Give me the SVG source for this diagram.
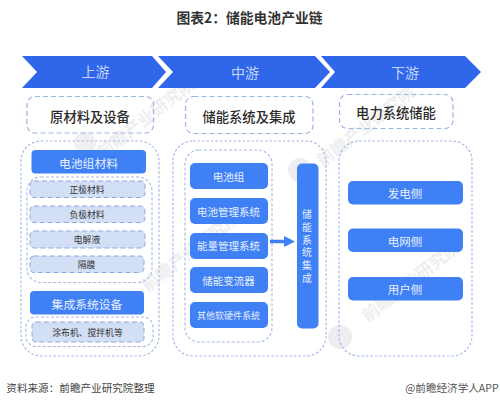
<svg xmlns="http://www.w3.org/2000/svg" width="500" height="404" viewBox="0 0 500 404">
<style>
text{font-family:"Noto Sans CJK SC","Liberation Sans",sans-serif;text-anchor:middle;dominant-baseline:central}
.chev{fill:#2f66ea}
.ct{fill:#c4d4f7;font-size:14px}
.lab{fill:none;stroke:#9db4e6;stroke-width:1.2;stroke-dasharray:5 3}
.lt{fill:#2b2b2b;font-size:13.300px;font-weight:500}
.big{fill:none;stroke:#a3b8e8;stroke-width:1.2;stroke-dasharray:2.500 2}
.inner{fill:none;stroke:#a3b8e8;stroke-width:1.1;stroke-dasharray:3 2}
.btn{fill:#3f80f4}
.bt{fill:#e8f0ff;font-size:10.500px}
.bt2{fill:#e8f0ff;font-size:11.800px}
.bt3{fill:#e8f0ff;font-size:11.500px}
.sub{fill:#d3dff5;stroke:#8fa8e0;stroke-width:1;stroke-dasharray:5 3}
.st{fill:#333;font-size:8.800px}
.wm{fill:#eeeef0;font-size:17px;font-weight:700}
</style>
<rect width="500" height="404" fill="#fff"/>
<g id="watermark">
<text class="wm" transform="translate(145 117) rotate(-38)">前瞻产业研究院</text>
<text class="wm" transform="translate(365 125) rotate(-38)">前瞻产业研究院</text>
<text class="wm" transform="translate(410 280) rotate(-38)">前瞻产业研究院</text>
<text class="wm" transform="translate(190 250) rotate(-38)">前瞻产业研究院</text>
<circle cx="85" cy="143" r="11" fill="#f0f0f2"/><circle cx="300" cy="170" r="12" fill="#eeeef0"/><circle cx="340" cy="337" r="12" fill="#eeeef0"/>
</g>
<text x="249.500" y="16.500" font-size="13.800" font-weight="700" fill="#333">图表2：储能电池产业链</text>
<g id="upstream-head"><polygon class="chev" points="22,56 152,56 166,72 152,88 22,88 37,72"/><text class="ct" x="95.500" y="71">上游</text></g>
<g id="midstream-head"><polygon class="chev" points="158,56 315,56 330,72 315,88 158,88 173,72"/><text class="ct" x="245" y="71.500">中游</text></g>
<g id="downstream-head"><polygon class="chev" points="321,56 465,56 481,72 465,88 321,88 335,72"/><text class="ct" x="405" y="71.500">下游</text></g>
<g id="upstream-label"><rect class="lab" x="27" y="96.500" width="126.500" height="36.500" rx="8"/><text class="lt" x="90" y="116">原材料及设备</text></g>
<g id="midstream-label"><rect class="lab" x="185.500" y="96.500" width="127.500" height="37" rx="8"/><text class="lt" x="249" y="116">储能系统及集成</text></g>
<g id="downstream-label"><rect class="lab" x="339.500" y="94.500" width="113.500" height="34" rx="8"/><text class="lt" x="396" y="112.500">电力系统储能</text></g>
<g id="upstream-panel"><rect class="big" x="21" y="141" width="138" height="215" rx="20"/><rect class="inner" x="27" y="177" width="125" height="105.500" rx="14"/><rect class="inner" x="26" y="317" width="127" height="29.500" rx="10"/></g>
<g id="midstream-panel"><rect class="big" x="173" y="141" width="153" height="215" rx="20"/><rect class="inner" x="185" y="150" width="87" height="192" rx="14"/></g>
<g id="downstream-panel"><rect class="big" x="339" y="141" width="133" height="215" rx="20"/></g>
<g id="n1"><rect class="btn" x="31.500" y="150" width="114.500" height="23.500" rx="4"/><text class="bt2" x="88.500" y="162">电池组材料</text></g>
<g id="n2"><rect class="sub" x="30" y="181" width="115" height="16.500" rx="4"/><text class="st" x="87" y="189">正极材料</text></g>
<g id="n3"><rect class="sub" x="30" y="206" width="115" height="16.500" rx="4"/><text class="st" x="87" y="214.500">负极材料</text></g>
<g id="n4"><rect class="sub" x="30" y="231" width="115" height="17" rx="4"/><text class="st" x="87" y="239.500">电解液</text></g>
<g id="n5"><rect class="sub" x="30" y="256" width="114" height="16.500" rx="4"/><text class="st" x="86.500" y="264">隔膜</text></g>
<g id="n6"><rect class="btn" x="30" y="291" width="114" height="23.500" rx="4"/><text class="bt2" x="87" y="303">集成系统设备</text></g>
<g id="n7"><rect class="sub" x="32" y="322" width="112" height="20" rx="4"/><text class="st" x="87.500" y="332">涂布机、搅拌机等</text></g>
<g id="n8"><rect class="btn" x="190" y="163" width="78" height="26" rx="5"/><text class="bt" x="228.500" y="176">电池组</text></g>
<g id="n9"><rect class="btn" x="190" y="198" width="78" height="26" rx="5"/><text class="bt" x="228.500" y="211">电池管理系统</text></g>
<g id="n10"><rect class="btn" x="190" y="233" width="78" height="26" rx="5"/><text class="bt" x="228.500" y="245.500">能量管理系统</text></g>
<g id="n11"><rect class="btn" x="190" y="267" width="78" height="26" rx="5"/><text class="bt" x="228.500" y="280">储能变流器</text></g>
<g id="n12"><rect class="btn" x="190" y="302" width="78" height="26" rx="5"/><text class="bt" style="font-size:9px" x="228.500" y="315">其他软硬件系统</text></g>
<g id="n13"><rect class="btn" x="297" y="163.500" width="21.500" height="165" rx="5"/>
<text class="bt" style="font-size:9.800px" x="307" y="214">储</text><text class="bt" style="font-size:9.800px" x="307" y="227">能</text><text class="bt" style="font-size:9.800px" x="307" y="239.500">系</text><text class="bt" style="font-size:9.800px" x="307" y="252">统</text><text class="bt" style="font-size:9.800px" x="307" y="265">集</text><text class="bt" style="font-size:9.800px" x="307" y="277.500">成</text></g>
<g id="n14"><rect class="btn" x="348" y="181" width="115" height="23.500" rx="5"/><text class="bt3" x="405" y="193">发电侧</text></g>
<g id="n15"><rect class="btn" x="348" y="228.500" width="115" height="23.500" rx="5"/><text class="bt3" x="405" y="240.500">电网侧</text></g>
<g id="n16"><rect class="btn" x="348" y="277" width="115" height="23.500" rx="5"/><text class="bt3" x="405" y="289">用户侧</text></g>
<g id="connectors"><polygon fill="#3f80f4" points="270,239.800 284,239.800 284,236 295,241.500 284,247 284,243.200 270,243.200"/></g>
<text x="80.500" y="387" font-size="10.600" fill="#444">资料来源：前瞻产业研究院整理</text>
<text x="452" y="387" font-size="10.600" fill="#555">@前瞻经济学人APP</text>
</svg>
